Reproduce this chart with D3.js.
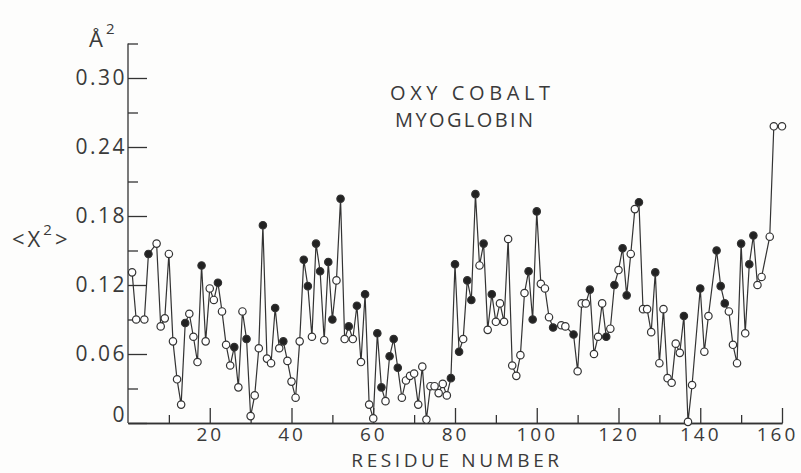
<!DOCTYPE html>
<html>
<head>
<meta charset="utf-8">
<style>
body, html {
	margin: 0;
	padding: 0;
	background: #fdfdfc;
}
svg { display: block; }
text {
	font-family: "Open Sans", sans-serif;
	fill: #3a3a3a;
}
</style>
</head>
<body>
<div id="chart"></div>

<script src="https://cdn.jsdelivr.net/npm/d3@7/dist/d3.min.js"></script>
<script>

// residue numbers of the plotted points (a few residues have no point)
const residues = [
	1, 2, 4, 5, 7, 8, 9, 10, 11, 12,
	13, 14, 15, 16, 17, 18, 19, 20, 21, 22,
	23, 24, 25, 26, 27, 28, 29, 30, 31, 32,
	33, 34, 35, 36, 37, 38, 39, 40, 41, 42,
	43, 44, 45, 46, 47, 48, 49, 50, 51, 52,
	53, 54, 55, 56, 57, 58, 59, 60, 61, 62,
	63, 64, 65, 66, 67, 68, 69, 70, 71, 72,
	73, 74, 75, 76, 77, 78, 79, 80, 81, 82,
	83, 84, 85, 86, 87, 88, 89, 90, 91, 92,
	93, 94, 95, 96, 97, 98, 99, 100, 101, 102,
	103, 104, 106, 107, 109, 110, 111, 112, 113, 114,
	115, 116, 117, 118, 119, 120, 121, 122, 123, 124,
	125, 126, 127, 128, 129, 130, 131, 132, 133, 134,
	135, 136, 137, 138, 140, 141, 142, 144, 145, 146,
	147, 148, 149, 150, 151, 152, 153, 154, 155, 157,
	158, 160
];

// <x^2> in A^2
const msd = [
	0.131, 0.090, 0.090, 0.147, 0.156, 0.084, 0.091, 0.147, 0.071, 0.038,
	0.016, 0.087, 0.095, 0.075, 0.053, 0.137, 0.071, 0.117, 0.107, 0.122,
	0.097, 0.068, 0.050, 0.066, 0.031, 0.097, 0.073, 0.006, 0.024, 0.065,
	0.172, 0.056, 0.052, 0.100, 0.065, 0.071, 0.054, 0.036, 0.022, 0.071,
	0.142, 0.119, 0.075, 0.156, 0.132, 0.072, 0.140, 0.090, 0.124, 0.195,
	0.073, 0.084, 0.073, 0.102, 0.053, 0.112, 0.016, 0.004, 0.078, 0.031,
	0.019, 0.058, 0.073, 0.048, 0.022, 0.037, 0.041, 0.043, 0.016, 0.049,
	0.003, 0.032, 0.032, 0.026, 0.034, 0.024, 0.039, 0.138, 0.062, 0.073,
	0.124, 0.107, 0.199, 0.137, 0.156, 0.081, 0.112, 0.088, 0.104, 0.088,
	0.160, 0.050, 0.041, 0.059, 0.113, 0.132, 0.090, 0.184, 0.121, 0.117,
	0.092, 0.083, 0.085, 0.084, 0.077, 0.045, 0.104, 0.104, 0.116, 0.060,
	0.075, 0.104, 0.075, 0.082, 0.120, 0.133, 0.152, 0.111, 0.147, 0.186,
	0.192, 0.099, 0.099, 0.079, 0.131, 0.052, 0.099, 0.039, 0.035, 0.069,
	0.061, 0.093, 0.001, 0.033, 0.117, 0.062, 0.093, 0.150, 0.119, 0.104,
	0.097, 0.068, 0.052, 0.156, 0.078, 0.138, 0.163, 0.120, 0.127, 0.162,
	0.258, 0.258
];

// 1 = filled circle, 0 = open circle
const filled = [
	0, 0, 0, 1, 0, 0, 0, 0, 0, 0,
	0, 1, 0, 0, 0, 1, 0, 0, 0, 1,
	0, 0, 0, 1, 0, 0, 1, 0, 0, 0,
	1, 0, 0, 1, 0, 1, 0, 0, 0, 0,
	1, 1, 0, 1, 1, 0, 1, 1, 0, 1,
	0, 1, 0, 1, 0, 1, 0, 0, 1, 1,
	0, 1, 1, 1, 0, 0, 0, 0, 0, 0,
	0, 0, 0, 0, 0, 0, 1, 1, 1, 0,
	1, 1, 1, 0, 1, 0, 1, 0, 0, 0,
	0, 0, 0, 0, 0, 1, 1, 1, 0, 0,
	0, 1, 0, 0, 1, 0, 0, 0, 1, 0,
	0, 0, 1, 0, 1, 0, 1, 1, 0, 0,
	1, 0, 0, 0, 1, 0, 0, 0, 0, 0,
	0, 1, 0, 0, 1, 0, 0, 1, 1, 1,
	0, 0, 0, 1, 0, 1, 1, 0, 0, 0,
	0, 0
];

const xMajorTicks = [20, 40, 60, 80, 100, 120, 140, 160];
const xMinorTicks = [10, 30, 50, 70, 90, 110, 130, 150];
const yMajorTicks = [0, 0.06, 0.12, 0.18, 0.24, 0.30];
const yMinorTicks = [0.03, 0.09, 0.15, 0.21, 0.27, 0.33];
const titleLines = ["OXY COBALT", "MYOGLOBIN"];

const WIDTH = 801;
const HEIGHT = 473;
const INK = "#333";

const points = residues.map((r, i) => ({ residue: r, value: msd[i], filled: filled[i] === 1 }));

const svg = d3.select("#chart").append("svg")
	.attr("width", WIDTH)
	.attr("height", HEIGHT);

const x = d3.scaleLinear().domain([0, 160]).range([128, 782]);
const y = d3.scaleLinear().domain([0, 0.33]).range([423, 43.5]);

function styleAxis(g) {
	g.selectAll("path, line").attr("stroke", INK).attr("stroke-width", 1.3);
	g.selectAll("text")
		.attr("fill", "#3a3a3a")
		.style("font-family", '"Open Sans", sans-serif');
}

// x axis, ticks pointing up into the plot
svg.append("g")
	.attr("transform", `translate(0,${y(0)})`)
	.call(d3.axisBottom(x).tickValues(xMinorTicks).tickSize(-8).tickSizeOuter(0).tickFormat(""))
	.call(styleAxis);

svg.append("g")
	.attr("transform", `translate(0,${y(0)})`)
	.call(d3.axisBottom(x).tickValues(xMajorTicks).tickSize(-15).tickSizeOuter(0).tickPadding(4.5))
	.call(styleAxis)
	.call(g => g.selectAll("text")
		.style("font-size", "19px")
		.style("letter-spacing", "3px"))
	// the last label sits a little left of its tick in the original
	.call(g => g.selectAll(".tick").filter(d => d === 160).select("text").attr("dx", "-5px"));

// y axis, ticks pointing right
svg.append("g")
	.attr("transform", `translate(${x(0)},0)`)
	.call(d3.axisLeft(y).tickValues(yMinorTicks).tickSize(-10).tickSizeOuter(0).tickFormat(""))
	.call(styleAxis)
	.call(g => g.select(".domain").remove());

svg.append("g")
	.attr("transform", `translate(${x(0)},0)`)
	.call(d3.axisLeft(y).tickValues(yMajorTicks).tickSize(-19).tickSizeOuter(0).tickPadding(1)
		.tickFormat(d => d === 0 ? "0" : d3.format(".2f")(d)))
	.call(styleAxis)
	.call(g => g.select(".domain").attr("d", `M0,${y(0)}V${y(0.33)}`))
	.call(g => g.selectAll("text")
		.style("font-size", "21px")
		.style("letter-spacing", "2.5px"))
	.call(g => g.selectAll(".tick").filter(d => d === 0).select("text").attr("dy", "-0.05em"));

// data line + markers
const line = d3.line()
	.x(d => x(d.residue))
	.y(d => y(d.value));

svg.append("path")
	.datum(points)
	.attr("fill", "none")
	.attr("stroke", INK)
	.attr("stroke-width", 1.2)
	.attr("d", line);

svg.append("g")
	.selectAll("circle")
	.data(points)
	.enter().append("circle")
		.attr("cx", d => x(d.residue))
		.attr("cy", d => y(d.value))
		.attr("r", 3.7)
		.attr("fill", d => d.filled ? "#222" : "#fff")
		.attr("stroke", INK)
		.attr("stroke-width", 1.2);

// labels
svg.append("text")
	.attr("x", 457)
	.attr("y", 467.3)
	.attr("text-anchor", "middle")
	.style("font-size", "19px")
	.style("letter-spacing", "3.6px")
	.text("RESIDUE NUMBER");

const ylab = svg.append("text")
	.attr("x", 12)
	.attr("y", 247)
	.style("font-size", "22px")
	.style("letter-spacing", "3px");
ylab.append("tspan").text("<X");
ylab.append("tspan").attr("dy", -12).style("font-size", "15px").text("2");
ylab.append("tspan").attr("dy", 12).text(">");

const unit = svg.append("text")
	.attr("x", 89)
	.attr("y", 47)
	.style("font-size", "22px");
unit.append("tspan").text("Å");
unit.append("tspan").attr("dx", 3).attr("dy", -13).style("font-size", "15px").text("2");

svg.selectAll(".title")
	.data(titleLines)
	.enter().append("text")
		.attr("class", "title")
		.attr("x", (d, i) => i === 0 ? 390 : 395)
		.attr("y", (d, i) => 100 + i * 27)
		.attr("textLength", (d, i) => i === 0 ? 160 : 138)
		.attr("lengthAdjust", "spacing")
		.style("font-size", "20px")
		.text(d => d);

</script>
</body>
</html>
